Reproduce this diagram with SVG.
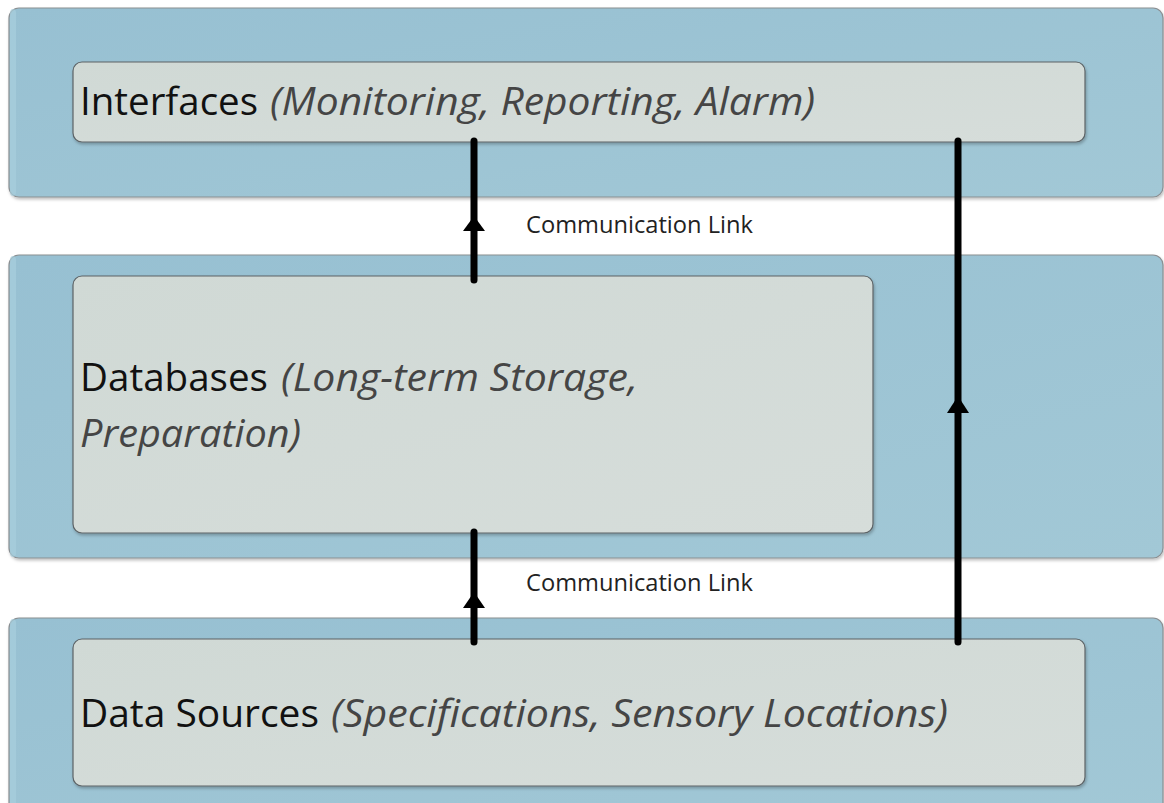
<svg xmlns="http://www.w3.org/2000/svg" width="1164" height="803" viewBox="0 0 1164 803">
  <defs>
    <linearGradient id="outerFill" x1="0" y1="0" x2="1" y2="1">
      <stop offset="0" stop-color="#97c0d2"/>
      <stop offset="1" stop-color="#a2c8d6"/>
    </linearGradient>
    <linearGradient id="innerFill" x1="0" y1="0" x2="1" y2="1">
      <stop offset="0" stop-color="#d0d9d5"/>
      <stop offset="1" stop-color="#d6ddda"/>
    </linearGradient>
    <filter id="shadow" x="-5%" y="-5%" width="110%" height="115%">
      <feDropShadow dx="1" dy="2" stdDeviation="1.5" flood-color="#000" flood-opacity="0.25"/>
    </filter>
  </defs>
  <style>
    .outer { fill: url(#outerFill); stroke: #8a8f92; stroke-width: 1.2; filter: url(#shadow); }
    .inner { fill: url(#innerFill); stroke: #5d6366; stroke-width: 1.2; filter: url(#shadow); }
    .title { font-family: "Open Sans", "Liberation Sans", sans-serif; font-size: 39px; fill: #111; }
    .sub { font-family: "Open Sans", "Liberation Sans", sans-serif; font-size: 39px; font-style: italic; fill: #454545; }
    .link { stroke: #000; stroke-width: 7; stroke-linecap: round; fill: none; }
    .lbl { font-family: "Open Sans", "Liberation Sans", sans-serif; font-size: 23px; fill: #222; }
    .head { fill: #000; }
  </style>
  <rect width="1164" height="803" fill="#ffffff"/>

  <g id="layer-interfaces">
    <rect class="outer" x="9" y="8" width="1154" height="189" rx="10"/>
    <rect x="10" y="9" width="6" height="187" rx="4" fill="#a8cfdd" opacity="0.7"/>
  </g>
  <g id="layer-databases">
    <rect class="outer" x="9" y="255" width="1154" height="303" rx="10"/>
    <rect x="10" y="256" width="6" height="301" rx="4" fill="#a8cfdd" opacity="0.7"/>
  </g>
  <g id="layer-sources">
    <rect class="outer" x="9" y="618" width="1154" height="200" rx="10"/>
    <rect x="10" y="619" width="6" height="190" rx="4" fill="#a8cfdd" opacity="0.7"/>
  </g>

  <g id="node-interfaces">
    <rect class="inner" x="73" y="62" width="1012" height="80" rx="9"/>
    <text class="title" x="80" y="115" textLength="178" lengthAdjust="spacingAndGlyphs">Interfaces</text>
    <text class="sub" x="270" y="115" textLength="545" lengthAdjust="spacingAndGlyphs">(Monitoring, Reporting, Alarm)</text>
  </g>
  <g id="node-databases">
    <rect class="inner" x="73" y="276" width="800" height="257" rx="9"/>
    <text class="title" x="80" y="391" textLength="188" lengthAdjust="spacingAndGlyphs">Databases</text>
    <text class="sub" x="281" y="391" textLength="357" lengthAdjust="spacingAndGlyphs">(Long-term Storage,</text>
    <text class="sub" x="80" y="447" textLength="221" lengthAdjust="spacingAndGlyphs">Preparation)</text>
  </g>
  <g id="node-sources">
    <rect class="inner" x="73" y="639" width="1012" height="147" rx="9"/>
    <text class="title" x="80" y="727" textLength="239" lengthAdjust="spacingAndGlyphs">Data Sources</text>
    <text class="sub" x="331" y="727" textLength="617" lengthAdjust="spacingAndGlyphs">(Specifications, Sensory Locations)</text>
  </g>

  <g id="connectors">
    <line class="link" x1="474" y1="280" x2="474" y2="141"/>
    <path class="head" d="M463,231 L474,216 L485,231 Z"/>
    <line class="link" x1="474" y1="642" x2="474" y2="532"/>
    <path class="head" d="M463,608 L474,592 L485,608 Z"/>
    <line class="link" x1="958" y1="642" x2="958" y2="141"/>
    <path class="head" d="M947,413 L958,396 L969,413 Z"/>
    <text class="lbl" x="526" y="233" textLength="227" lengthAdjust="spacingAndGlyphs">Communication Link</text>
    <text class="lbl" x="526" y="591" textLength="227" lengthAdjust="spacingAndGlyphs">Communication Link</text>
  </g>
</svg>
